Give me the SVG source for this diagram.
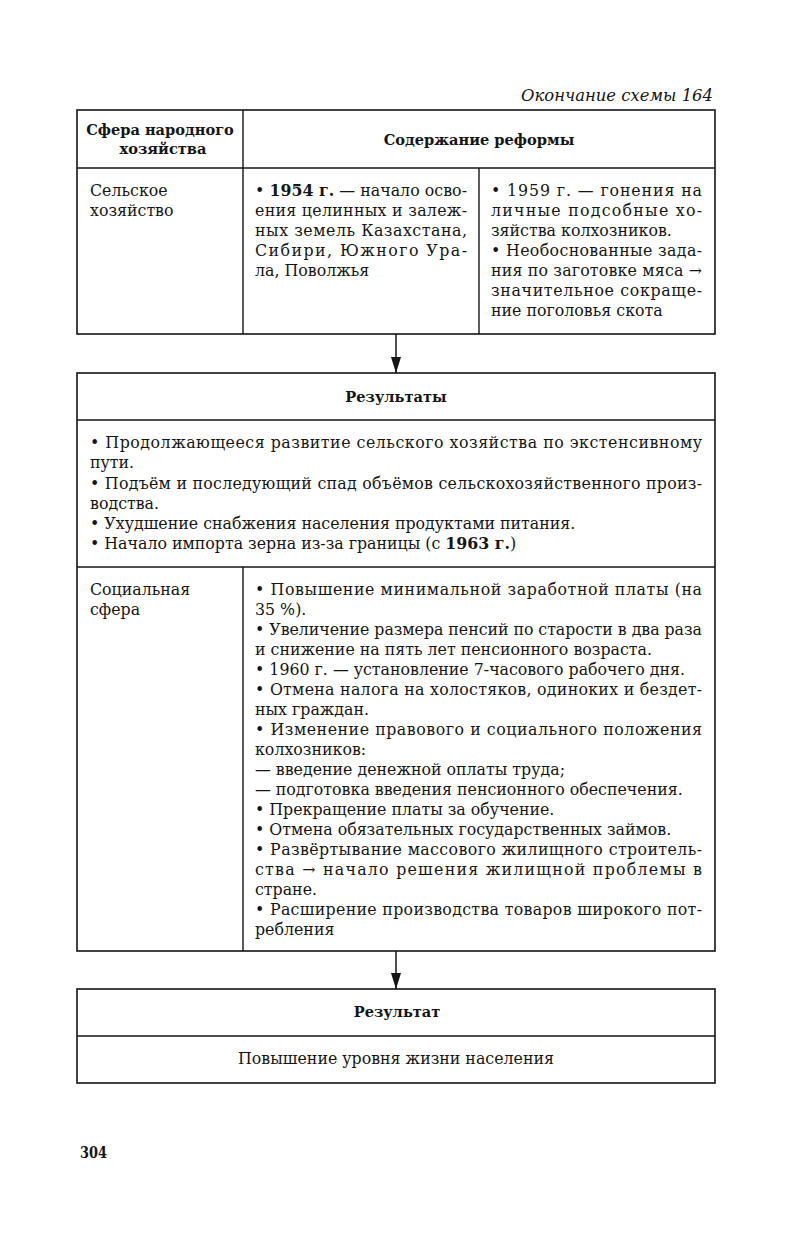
<svg xmlns="http://www.w3.org/2000/svg" width="791" height="1245" viewBox="0 0 791 1245">
<style>
text{font-family:"DejaVu Serif","Liberation Serif",serif;font-size:15.8px;fill:#151515}
.b{font-weight:bold}
.h{font-weight:bold;font-size:14.6px;text-anchor:middle}
.c{text-anchor:middle}
.i{font-style:italic;font-size:16px;text-anchor:end}
.box{fill:none;stroke:#151515;stroke-width:1.6}
.ln{stroke:#151515;stroke-width:1.4}
.con{stroke:#151515;stroke-width:1.5;fill:none}
</style>
<defs>
<marker id="ah" viewBox="0 0 16 10" markerWidth="16" markerHeight="10" refX="16" refY="5" orient="auto" markerUnits="userSpaceOnUse">
<path d="M0,0 L16,5 L0,10 z" fill="#151515"/>
</marker>
</defs>
<rect width="791" height="1245" fill="#fff"/>
<text class="i" x="713" y="101" textLength="192" lengthAdjust="spacingAndGlyphs">Окончание схемы 164</text>

<g id="reform-table">
<rect class="box" x="77" y="110" width="638" height="224"/>
<line class="ln" x1="77" y1="168" x2="715" y2="168"/>
<line class="ln" x1="243" y1="110" x2="243" y2="334"/>
<line class="ln" x1="479" y1="168" x2="479" y2="334"/>
<text class="h" x="160" y="135">Сфера народного</text>
<text class="h" x="163" y="154">хозяйства</text>
<text class="h" x="479" y="145">Содержание реформы</text>
<text x="90" y="196">Сельское</text>
<text x="90" y="216">хозяйство</text>
<text x="255" y="196" textLength="212" lengthAdjust="spacing">• <tspan class="b">1954 г.</tspan> — начало осво-</text>
<text x="255" y="216" textLength="212" lengthAdjust="spacing">ения целинных и залеж-</text>
<text x="255" y="236" textLength="212" lengthAdjust="spacing">ных земель Казахстана,</text>
<text x="255" y="256" textLength="212" lengthAdjust="spacing">Сибири, Южного Ура-</text>
<text x="255" y="276">ла, Поволжья</text>
<text x="491" y="196" textLength="211" lengthAdjust="spacing">• 1959 г. — гонения на</text>
<text x="491" y="216" textLength="211" lengthAdjust="spacing">личные подсобные хо-</text>
<text x="491" y="236">зяйства колхозников.</text>
<text x="491" y="256" textLength="211" lengthAdjust="spacing">• Необоснованные зада-</text>
<text x="491" y="276" textLength="211" lengthAdjust="spacing">ния по заготовке мяса →</text>
<text x="491" y="296" textLength="211" lengthAdjust="spacing">значительное сокраще-</text>
<text x="491" y="316">ние поголовья скота</text>
</g>

<g id="results">
<rect class="box" x="77" y="373" width="638" height="578"/>
<line class="ln" x1="77" y1="420" x2="715" y2="420"/>
<line class="ln" x1="77" y1="567" x2="715" y2="567"/>
<text class="h" x="396" y="402">Результаты</text>
<text x="90" y="448" textLength="612" lengthAdjust="spacing">• Продолжающееся развитие сельского хозяйства по экстенсивному</text>
<text x="90" y="468">пути.</text>
<text x="90" y="489" textLength="612" lengthAdjust="spacing">• Подъём и последующий спад объёмов сельскохозяйственного произ-</text>
<text x="90" y="509">водства.</text>
<text x="90" y="529">• Ухудшение снабжения населения продуктами питания.</text>
<text x="90" y="549">• Начало импорта зерна из-за границы (с <tspan class="b">1963 г.</tspan>)</text>
</g>

<g id="social-sphere">
<line class="ln" x1="243" y1="567" x2="243" y2="951"/>
<text x="90" y="595">Социальная</text>
<text x="90" y="615">сфера</text>
<text x="255" y="595" textLength="447" lengthAdjust="spacing">• Повышение минимальной заработной платы (на</text>
<text x="255" y="615">35 %).</text>
<text x="255" y="635" textLength="447" lengthAdjust="spacing">• Увеличение размера пенсий по старости в два раза</text>
<text x="255" y="655">и снижение на пять лет пенсионного возраста.</text>
<text x="255" y="675">• 1960 г. — установление 7-часового рабочего дня.</text>
<text x="255" y="695" textLength="447" lengthAdjust="spacing">• Отмена налога на холостяков, одиноких и бездет-</text>
<text x="255" y="715">ных граждан.</text>
<text x="255" y="735" textLength="447" lengthAdjust="spacing">• Изменение правового и социального положения</text>
<text x="255" y="755">колхозников:</text>
<text x="255" y="775">— введение денежной оплаты труда;</text>
<text x="255" y="795">— подготовка введения пенсионного обеспечения.</text>
<text x="255" y="815">• Прекращение платы за обучение.</text>
<text x="255" y="835">• Отмена обязательных государственных займов.</text>
<text x="255" y="855" textLength="447" lengthAdjust="spacing">• Развёртывание массового жилищного строитель-</text>
<text x="255" y="875" textLength="447" lengthAdjust="spacing">ства → начало решения жилищной проблемы в</text>
<text x="255" y="895">стране.</text>
<text x="255" y="915" textLength="447" lengthAdjust="spacing">• Расширение производства товаров широкого пот-</text>
<text x="255" y="935">ребления</text>
</g>

<g id="result">
<rect class="box" x="77" y="989" width="638" height="94"/>
<line class="ln" x1="77" y1="1036" x2="715" y2="1036"/>
<text class="h" x="397" y="1017">Результат</text>
<text class="c" x="396" y="1064">Повышение уровня жизни населения</text>
</g>

<g id="connectors">
<line class="con" x1="396" y1="334" x2="396" y2="373" marker-end="url(#ah)"/>
<line class="con" x1="396" y1="951" x2="396" y2="989" marker-end="url(#ah)"/>
</g>

<text class="b" x="80" y="1158" textLength="27" lengthAdjust="spacingAndGlyphs">304</text>
</svg>
